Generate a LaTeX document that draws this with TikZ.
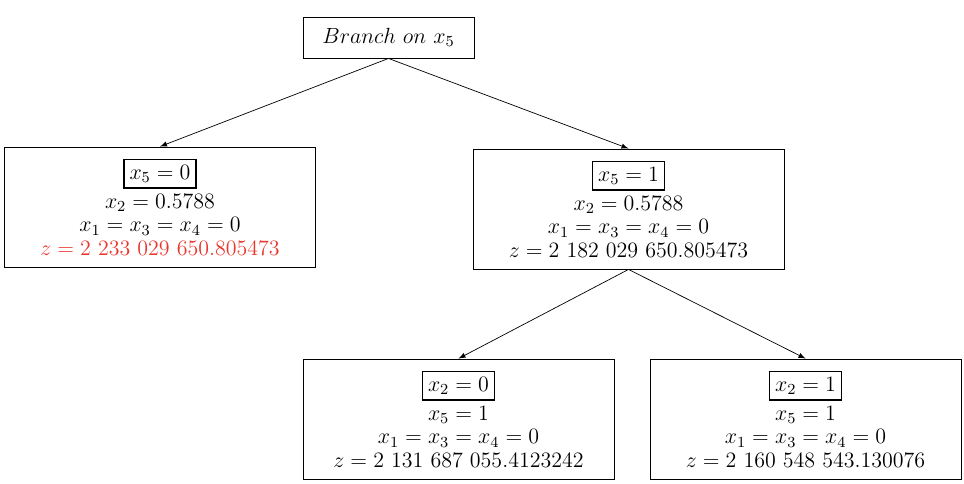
\RequirePackage{fix-cm}
\documentclass[tikz,border=0pt]{standalone}
\usepackage{amssymb,amsmath}
\usepackage{xcolor}
\definecolor{zred}{RGB}{233,55,45}
\setlength{\fboxsep}{2.6pt}
\setlength{\fboxrule}{1.1pt}

\begin{document}
\begin{tikzpicture}[
            every node/.style={rectangle,draw,line width=0.5pt,align=center,font=\fontsize{12.5}{13.4}\selectfont},
            bnbnode/.style={minimum width=6.22cm,minimum height=2.4cm,inner sep=0pt},
            branch edge/.style={draw,-latex,line width=0.4pt}
        ]
        \useasboundingbox (0,0) rectangle (19.28,-9.68);
        \node[minimum width=3.42cm,minimum height=0.82cm] (root) at (7.77,-0.75) {$Branch\ on\ x_5$};
        \node[bnbnode] (x5zero) at (3.2,-4.14) {$\boxed{x_5 = 0}$\\[2pt] $x_2 = 0.5788$\\ $x_1 = x_3 = x_4 = 0$\\
        \textcolor{zred}{$z = 2\ 233\ 029\ 650.805473$}};
        \node[bnbnode] (x5one) at (12.57,-4.18) {$\boxed{x_5 = 1}$\\[2pt] $x_2 = 0.5788$\\ $x_1 = x_3 = x_4 = 0$\\
        $z = 2\ 182\ 029\ 650.805473$};
        \node[bnbnode] (x2zero) at (9.17,-8.38) {$\boxed{x_2 = 0}$\\[2pt] $x_5 = 1$\\ $x_1 = x_3 = x_4 = 0$\\
        $z = 2\ 131\ 687\ 055.4123242$};
        \node[bnbnode] (x2one) at (16.11,-8.38) {$\boxed{x_2 = 1}$\\[2pt] $x_5 = 1$\\ $x_1 = x_3 = x_4 = 0$\\
        $z = 2\ 160\ 548\ 543.130076$};
        % branching on x5, then on x2
        \draw[branch edge] (root.south) -- (x5zero.north);
        \draw[branch edge] (root.south) -- (x5one.north);
        \draw[branch edge] (x5one.south) -- (x2zero.north);
        \draw[branch edge] (x5one.south) -- (x2one.north);
    \end{tikzpicture}
\end{document}
